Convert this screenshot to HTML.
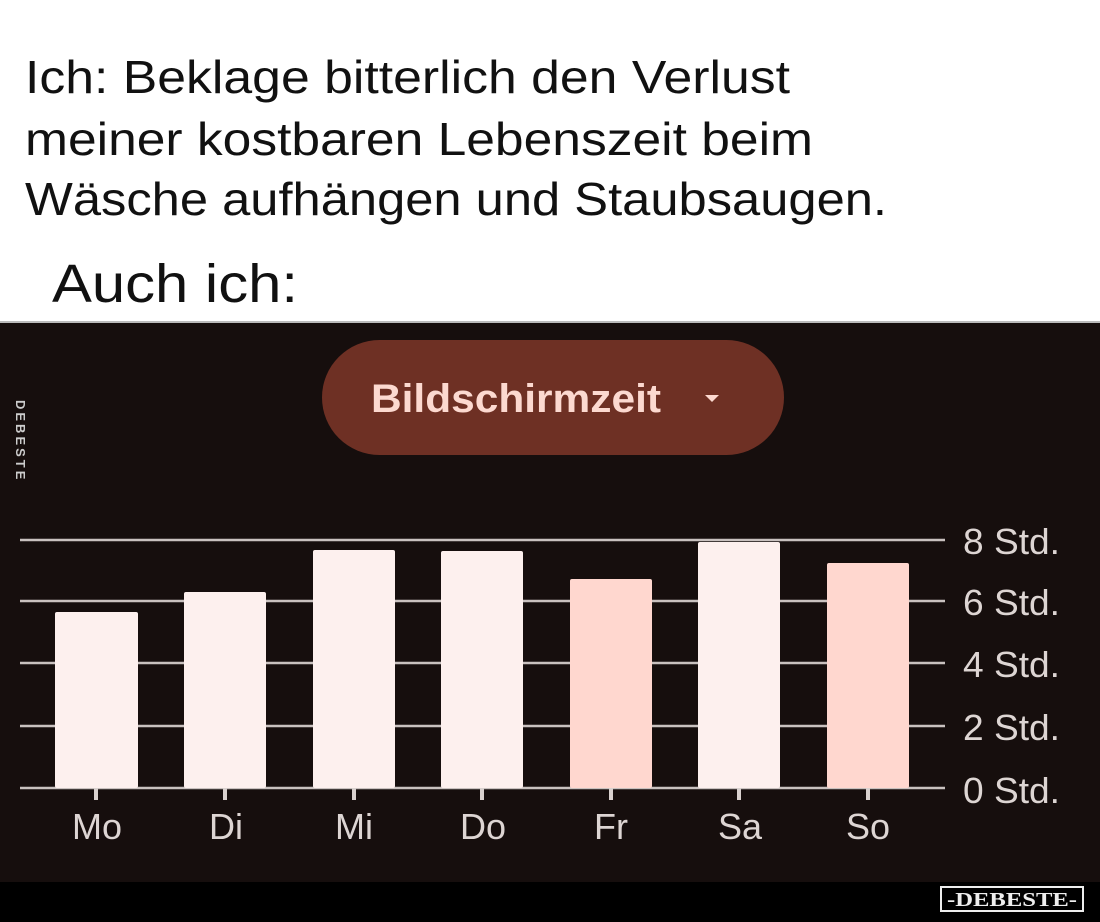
<!DOCTYPE html>
<html><head><meta charset="utf-8"><style>
html,body{margin:0;padding:0;background:#fff;}
svg{display:block;}
</style></head><body>
<svg width="1100" height="922" viewBox="0 0 1100 922" xmlns="http://www.w3.org/2000/svg" font-family="'Liberation Sans', sans-serif">
<rect x="0" y="0" width="1100" height="322" fill="#ffffff"/>
<text x="25" y="93" font-size="46" fill="#111" textLength="765" lengthAdjust="spacingAndGlyphs">Ich: Beklage bitterlich den Verlust</text>
<text x="25" y="155" font-size="46" fill="#111" textLength="788" lengthAdjust="spacingAndGlyphs">meiner kostbaren Lebenszeit beim</text>
<text x="25" y="215" font-size="46" fill="#111" textLength="862" lengthAdjust="spacingAndGlyphs">Wäsche aufhängen und Staubsaugen.</text>
<text x="52" y="302" font-size="54" fill="#111" textLength="246" lengthAdjust="spacingAndGlyphs">Auch ich:</text>
<rect x="0" y="321" width="1100" height="2" fill="#bbb"/>
<rect x="0" y="323" width="1100" height="560" fill="#160e0d"/>
<rect x="0" y="882" width="1100" height="40" fill="#000"/>
<text transform="translate(16,400) rotate(90)" font-size="13" font-weight="bold" fill="#ccc" letter-spacing="3">DEBESTE</text>
<rect x="322" y="340" width="462" height="115" rx="57.5" fill="#6e3024"/>
<text x="371" y="412" font-size="40" font-weight="bold" fill="#fcd9d0" textLength="290" lengthAdjust="spacingAndGlyphs">Bildschirmzeit</text>
<polygon points="705,395 719,395 712,402" fill="#fcd9d0"/>
<g stroke="#c9c1bf" stroke-width="2.5">
<line x1="20" y1="540" x2="945" y2="540"/>
<line x1="20" y1="601" x2="945" y2="601"/>
<line x1="20" y1="663" x2="945" y2="663"/>
<line x1="20" y1="726" x2="945" y2="726"/>
<line x1="20" y1="788" x2="945" y2="788"/>
</g>
<g fill="#fdf0ee">
<rect x="55" y="612" width="83" height="176" rx="2"/>
<rect x="184" y="592" width="82" height="196" rx="2"/>
<rect x="313" y="550" width="82" height="238" rx="2"/>
<rect x="441" y="551" width="82" height="237" rx="2"/>
<rect x="698" y="542" width="82" height="246" rx="2"/>
</g>
<g fill="#ffd7cf">
<rect x="570" y="579" width="82" height="209" rx="2"/>
<rect x="827" y="563" width="82" height="225" rx="2"/>
</g>
<g stroke="#d9d1cf" stroke-width="4">
<line x1="96" y1="788" x2="96" y2="800"/>
<line x1="225" y1="788" x2="225" y2="800"/>
<line x1="354" y1="788" x2="354" y2="800"/>
<line x1="482" y1="788" x2="482" y2="800"/>
<line x1="611" y1="788" x2="611" y2="800"/>
<line x1="739" y1="788" x2="739" y2="800"/>
<line x1="868" y1="788" x2="868" y2="800"/>
</g>
<g font-size="36" fill="#ddd5d3">
<text x="963" y="554" textLength="97" lengthAdjust="spacingAndGlyphs">8 Std.</text>
<text x="963" y="615" textLength="97" lengthAdjust="spacingAndGlyphs">6 Std.</text>
<text x="963" y="677" textLength="97" lengthAdjust="spacingAndGlyphs">4 Std.</text>
<text x="963" y="740" textLength="97" lengthAdjust="spacingAndGlyphs">2 Std.</text>
<text x="963" y="803" textLength="97" lengthAdjust="spacingAndGlyphs">0 Std.</text>
</g>
<g font-size="36" fill="#ddd5d3" text-anchor="middle">
<text x="97" y="839">Mo</text>
<text x="226" y="839">Di</text>
<text x="354" y="839">Mi</text>
<text x="483" y="839">Do</text>
<text x="611" y="839">Fr</text>
<text x="740" y="839">Sa</text>
<text x="868" y="839">So</text>
</g>
<rect x="941" y="887" width="142" height="24" fill="#000" stroke="#eee" stroke-width="2"/>
<text x="1012" y="906" font-size="20" font-weight="bold" fill="#eee" text-anchor="middle" font-family="'Liberation Serif',serif" textLength="130" lengthAdjust="spacingAndGlyphs">-DEBESTE-</text>
</svg>
</body></html>
